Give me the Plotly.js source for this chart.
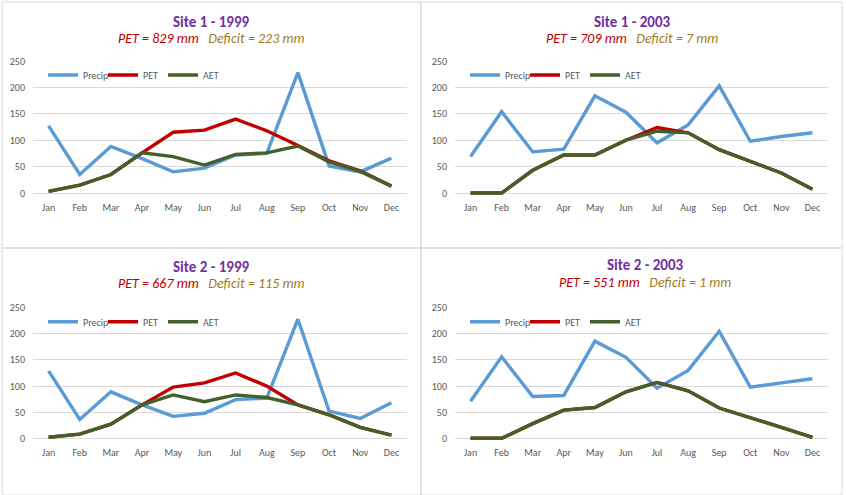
<!DOCTYPE html>
<html>
<head>
<meta charset="utf-8">
<script src="https://cdn.plot.ly/plotly-3.0.1.min.js"></script>
<style>html,body{margin:0;padding:0;background:#fff;}#chart{width:846px;height:495px;}</style>
</head>
<body>
<div id="chart"></div>
<script>
// ---- data ----
const months = ["Jan","Feb","Mar","Apr","May","Jun","Jul","Aug","Sep","Oct","Nov","Dec"];
const seriesNames = ["Precip","PET","AET"];

const panelTitles = ["Site 1 - 1999","Site 1 - 2003","Site 2 - 1999","Site 2 - 2003"];
const petTotals = [829, 709, 667, 551];
const deficits = [223, 7, 115, 1];

const site1_1999_precip = [127, 35, 88, 65, 40, 47, 72, 75, 228, 51, 40, 66];
const site1_1999_pet    = [3, 15, 35, 76, 115, 119, 140, 118, 90, 61, 42, 13];
const site1_1999_aet    = [3, 15, 35, 76, 69, 53, 73, 76, 89, 59, 41, 13];

const site1_2003_precip = [69, 154, 78, 83, 184, 153, 95, 129, 203, 98, 107, 114];
const site1_2003_pet    = [0, 0, 43, 72, 72, 100, 124, 114, 82, 60, 38, 7];
const site1_2003_aet    = [0, 0, 43, 72, 72, 100, 117, 114, 82, 60, 38, 7];

const site2_1999_precip = [129, 36, 89, 64, 42, 48, 74, 77, 228, 52, 38, 68];
const site2_1999_pet    = [2, 8, 27, 64, 98, 106, 125, 100, 64, 45, 21, 6];
const site2_1999_aet    = [2, 8, 27, 64, 83, 70, 83, 78, 64, 45, 21, 6];

const site2_2003_precip = [71, 156, 80, 82, 186, 155, 96, 130, 205, 98, 106, 114];
const site2_2003_pet    = [0, 0, 28, 54, 59, 89, 107, 91, 58, 40, 21, 2];
const site2_2003_aet    = [0, 0, 28, 54, 59, 89, 107, 91, 58, 40, 21, 2];

const yTicks = [0, 50, 100, 150, 200, 250];

// ---- styling ----
const colors = ["#5B9BD5", "#C00000", "#43602A"];
const panelSeries = [
  [site1_1999_precip, site1_1999_pet, site1_1999_aet],
  [site1_2003_precip, site1_2003_pet, site1_2003_aet],
  [site2_1999_precip, site2_1999_pet, site2_1999_aet],
  [site2_2003_precip, site2_2003_pet, site2_2003_aet]
];
const W = 846, H = 495;
const FONT = "Carlito, Lato, 'Open Sans', sans-serif";
// pixel geometry of each panel's plot area: [left, right, y0px (value 0), y250px]
const geom = [
  [33, 407, 193, 61],
  [455, 828, 193, 61],
  [33, 407, 438.3, 307.7],
  [455, 828, 438.3, 307.7]
];
const titleCenters = [[211, 22, 39], [632, 22, 39], [211, 267, 284], [645, 265, 282]];
const yMin = -5, yMax = 250;

const traces = [];
const layout = {
  width: W, height: H,
  margin: {l: 0, r: 0, t: 0, b: 0},
  paper_bgcolor: "#ffffff",
  plot_bgcolor: "rgba(0,0,0,0)",
  font: {family: FONT, color: "#595959", size: 10},
  showlegend: true,
  annotations: [],
  shapes: []
};

for (let p = 0; p < 4; p++) {
  const idx = p === 0 ? "" : String(p + 1);
  const [l, r, y0, y250] = geom[p];
  const pxPerUnit = (y0 - y250) / 250;
  const bottomPx = y0 - yMin * pxPerUnit;
  layout["xaxis" + idx] = {
    domain: [l / W, r / W],
    anchor: "y" + idx,
    type: "category",
    range: [-0.5, 11.5],
    showgrid: false, zeroline: false, showline: false,
    ticks: "", ticklabelstandoff: 4,
    tickfont: {family: FONT, size: 10, color: "#595959"},
    fixedrange: true
  };
  layout["yaxis" + idx] = {
    domain: [(H - bottomPx) / H, (H - y250) / H],
    anchor: "x" + idx,
    range: [yMin, yMax],
    tickvals: yTicks,
    showgrid: true, gridcolor: "#D9D9D9", gridwidth: 1,
    zeroline: false, showline: false,
    ticks: "", ticklabelstandoff: 7,
    tickfont: {family: FONT, size: 10, color: "#595959"},
    fixedrange: true
  };
  const legName = p === 0 ? "legend" : "legend" + (p + 1);
  layout[legName] = {
    orientation: "h",
    x: (l + 10) / W, xanchor: "left",
    y: (H - (y250 + 14)) / H, yanchor: "middle",
    bgcolor: "rgba(0,0,0,0)",
    font: {family: FONT, size: 10, color: "#595959"},
    entrywidth: 15, entrywidthmode: "pixels",
    traceorder: "normal"
  };
  for (let s = 0; s < 3; s++) {
    traces.push({
      type: "scatter", mode: "lines",
      x: months, y: panelSeries[p][s],
      name: seriesNames[s],
      xaxis: "x" + idx, yaxis: "y" + idx,
      legend: legName,
      line: {color: colors[s], width: 3.4},
      hoverinfo: "skip"
    });
  }
  const [cx, ty, sy] = titleCenters[p];
  layout.annotations.push({
    xref: "paper", yref: "paper", x: cx / W, y: (H - ty) / H,
    xanchor: "center", yanchor: "middle", showarrow: false,
    text: "<b>" + panelTitles[p] + "</b>",
    font: {family: FONT, size: 15, color: "#7030A0"}
  });
  layout.annotations.push({
    xref: "paper", yref: "paper", x: cx / W, y: (H - sy) / H,
    xanchor: "center", yanchor: "middle", showarrow: false,
    text: "<i><span style='color:#C00000'>PET = " + petTotals[p] + " mm</span>\u00A0\u00A0\u00A0<span style='color:#9E7C1E'>Deficit = " + deficits[p] + " mm</span></i>",
    font: {family: FONT, size: 14, color: "#C00000"}
  });
}

// chart-area borders
const boxes = [[2, 2, 421, 248], [421, 2, 842, 248], [2, 248, 421, 495], [421, 248, 842, 495]];
boxes.forEach(b => {
  layout.shapes.push({
    type: "rect", xref: "paper", yref: "paper",
    x0: b[0] / W, x1: b[2] / W, y0: (H - b[3]) / H, y1: (H - b[1]) / H,
    line: {color: "#D9D9D9", width: 1}, fillcolor: "rgba(0,0,0,0)", layer: "below"
  });
});

Plotly.newPlot("chart", traces, layout, {displayModeBar: false, staticPlot: true});
</script>
</body>
</html>
